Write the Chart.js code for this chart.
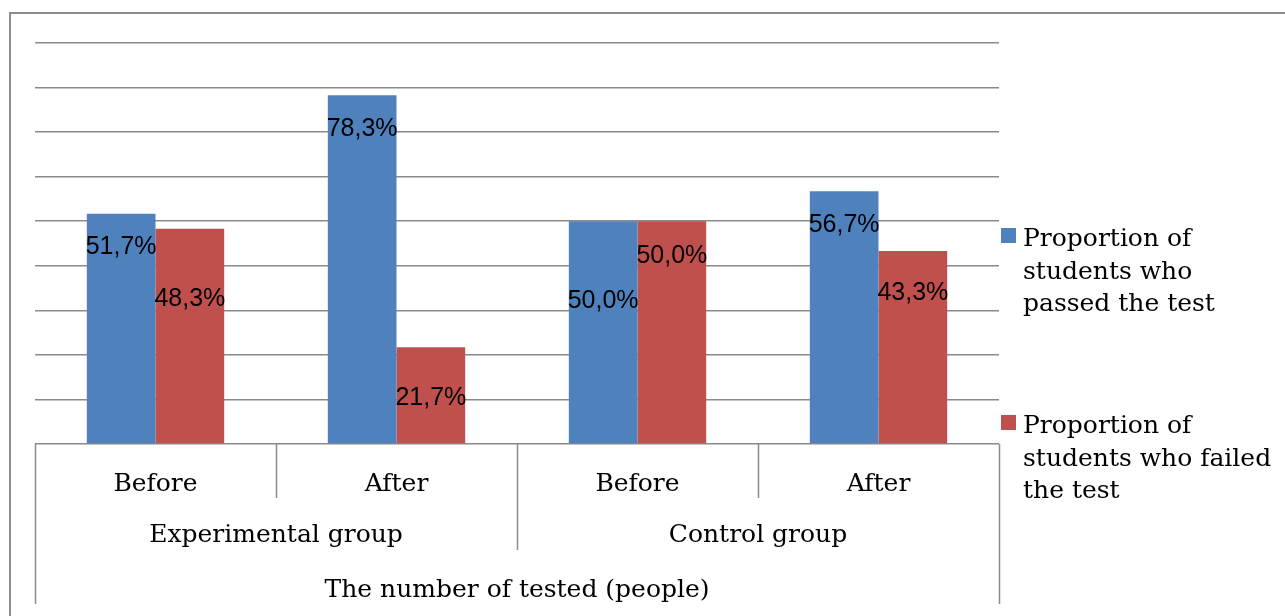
<!DOCTYPE html>
<html>
<head>
<meta charset="utf-8">
<script src="https://cdn.jsdelivr.net/npm/chart.js@4"></script>
<style>
  html, body { margin: 0; padding: 0; background: #fff; }
  #wrap { width: 1285px; height: 616px; position: relative; }
</style>
</head>
<body>
<div id="wrap"><canvas id="c" width="1285" height="616"></canvas></div>
<script>
// ---- data ----
const categories = ["Before", "After", "Before", "After"];
const groups = ["Experimental group", "Control group"];   // each spans 2 categories
const axisTitle = "The number of tested (people)";
const passedName = ["Proportion of", "students who", "passed the test"];
const failedName = ["Proportion of", "students who failed", "the test"];
const passed = [51.7, 78.3, 50.0, 56.7];
const failed = [48.3, 21.7, 50.0, 43.3];
// where each data label sits (value units, as placed in the original)
const passedLabelAt = [44.6, 71.2, 32.5, 49.6];
const failedLabelAt = [32.9, 10.8, 42.7, 34.3];
const yMax = 90, yStep = 10;

const BLUE = "#4F81BD", RED = "#C0504D", GRID = "#8a8a8a";
const SERIF = "25px 'DejaVu Serif'";
const SANS = "25px 'Liberation Sans'";

function fmt(v) { return v.toFixed(1).replace(".", ",") + "%"; }

const decor = {
  id: "decor",
  afterDraw(chart) {
    const ctx = chart.ctx, ca = chart.chartArea;
    const xs = chart.scales.x, ys = chart.scales.y;
    ctx.save();
    // outer frame (top & left visible)
    ctx.strokeStyle = "#8c8c8c"; ctx.lineWidth = 2;
    ctx.beginPath(); ctx.moveTo(10, 616); ctx.lineTo(10, 13); ctx.lineTo(1285, 13); ctx.stroke();

    // multi-level category axis separators
    ctx.strokeStyle = GRID; ctx.lineWidth = 1.5;
    const n = categories.length;
    const bounds = [];
    for (let i = 0; i <= n; i++) {
      let x;
      if (i === 0) x = ca.left; else if (i === n) x = ca.right;
      else x = (xs.getPixelForValue(i - 1) + xs.getPixelForValue(i)) / 2;
      bounds.push(x);
      let yEnd = 498;
      if (i === 0 || i === n) yEnd = 604; else if (i % 2 === 0) yEnd = 550;
      ctx.beginPath(); ctx.moveTo(Math.round(x) + 0.5, ca.bottom); ctx.lineTo(Math.round(x) + 0.5, yEnd); ctx.stroke();
    }
    ctx.fillStyle = "#000"; ctx.font = SERIF; ctx.textAlign = "center"; ctx.textBaseline = "alphabetic";
    categories.forEach((c, i) => ctx.fillText(c, xs.getPixelForValue(i), 491));
    groups.forEach((g, j) => ctx.fillText(g, (bounds[2 * j] + bounds[2 * j + 2]) / 2, 542));
    ctx.fillText(axisTitle, (ca.left + ca.right) / 2, 597);

    // data labels
    ctx.font = SANS; ctx.textAlign = "center";
    [[0, passed, passedLabelAt], [1, failed, failedLabelAt]].forEach(([di, vals, at]) => {
      const meta = chart.getDatasetMeta(di);
      meta.data.forEach((bar, i) => {
        const y = ys.getPixelForValue(at[i]);
        ctx.fillText(fmt(vals[i]), bar.x, y + 25 * 0.358);
      });
    });

    // legend
    const items = [[BLUE, passedName, 228], [RED, failedName, 415]];
    ctx.font = SERIF; ctx.textAlign = "left";
    items.forEach(([col, lines, top]) => {
      ctx.fillStyle = col; ctx.fillRect(1001, top, 15, 15);
      ctx.fillStyle = "#000";
      lines.forEach((t, k) => ctx.fillText(t, 1023, top + 18 + k * 32.5));
    });
    ctx.restore();
  }
};

new Chart(document.getElementById("c"), {
  type: "bar",
  data: {
    labels: categories,
    datasets: [
      { label: passedName.join(" "), data: passed, backgroundColor: BLUE },
      { label: failedName.join(" "), data: failed, backgroundColor: RED }
    ]
  },
  options: {
    responsive: false,
    animation: false,
    events: [],
    layout: { padding: { left: 35, right: 286, top: 43, bottom: 172 } },
    datasets: { bar: { barPercentage: 1.0, categoryPercentage: 0.57 } },
    plugins: { legend: { display: false }, tooltip: { enabled: false } },
    scales: {
      x: {
        offset: true,
        grid: { display: false, drawTicks: false },
        border: { display: false },
        ticks: { display: false },
        afterFit(s) { s.height = 0; }
      },
      y: {
        min: 0, max: yMax,
        ticks: { display: false, stepSize: yStep },
        grid: { color: GRID, lineWidth: 1.5, drawTicks: false },
        border: { display: false },
        afterFit(s) { s.width = 0; }
      }
    }
  },
  plugins: [decor]
});
</script>
</body>
</html>
